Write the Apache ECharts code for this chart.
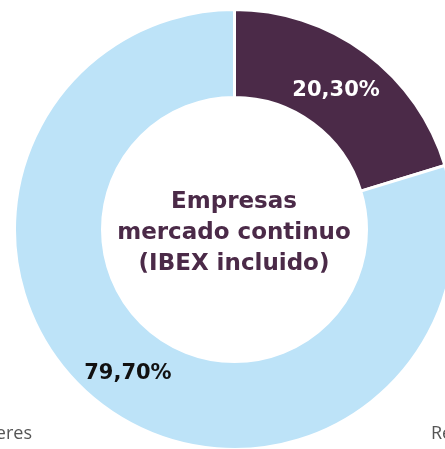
<!DOCTYPE html>
<html>
<head>
<meta charset="utf-8">
<script src="https://cdn.jsdelivr.net/npm/echarts@6/dist/echarts.min.js"></script>
<style>
  html, body { margin: 0; padding: 0; background: #fff; }
  #chart { width: 445px; height: 449px; }
</style>
</head>
<body>
<div id="chart"></div>
<script>
// datos
const categories = ['Mujeres', 'Resto'];
const values = [20.3, 79.7];
const labels = ['20,30%', '79,70%'];
const colors = ['#4b2a48', '#bde3f8'];
const labelColors = ['#ffffff', '#111111'];
const centerTitle = ['Empresas', 'mercado continuo', '(IBEX incluido)'];

const myChart = echarts.init(document.getElementById('chart'));

const option = {
  animation: false,
  graphic: [
    {
      type: 'text',
      x: 234, y: 233,
      style: {
        text: centerTitle.join('\n'),
        fill: '#4b2a48',
        font: 'bold 23px "DejaVu Sans"',
        lineHeight: 31,
        align: 'center',
        verticalAlign: 'middle'
      }
    },
    {
      type: 'text',
      right: 413, top: 425,
      style: { text: categories[0], fill: '#555', font: '18px "Open Sans"' }
    },
    {
      type: 'text',
      left: 431, top: 425,
      style: { text: categories[1], fill: '#555', font: '18px "Open Sans"' }
    }
  ],
  series: [{
    type: 'pie',
    center: [234.5, 229.5],
    radius: [132, 220],
    startAngle: 90,
    clockwise: true,
    silent: true,
    itemStyle: { borderColor: '#fff', borderWidth: 3 },
    label: {
      show: true,
      position: 'inside',
      fontFamily: 'DejaVu Sans',
      fontWeight: 'bold',
      fontSize: 21
    },
    labelLine: { show: false },
    data: categories.map((name, i) => ({
      name: name,
      value: values[i],
      itemStyle: { color: colors[i] },
      label: {
        formatter: labels[i],
        color: labelColors[i],
        offset: i === 0 ? [-5, 5] : [0, 0]
      }
    }))
  }]
};

myChart.setOption(option);
window.addEventListener('resize', () => myChart.resize());
</script>
</body>
</html>
